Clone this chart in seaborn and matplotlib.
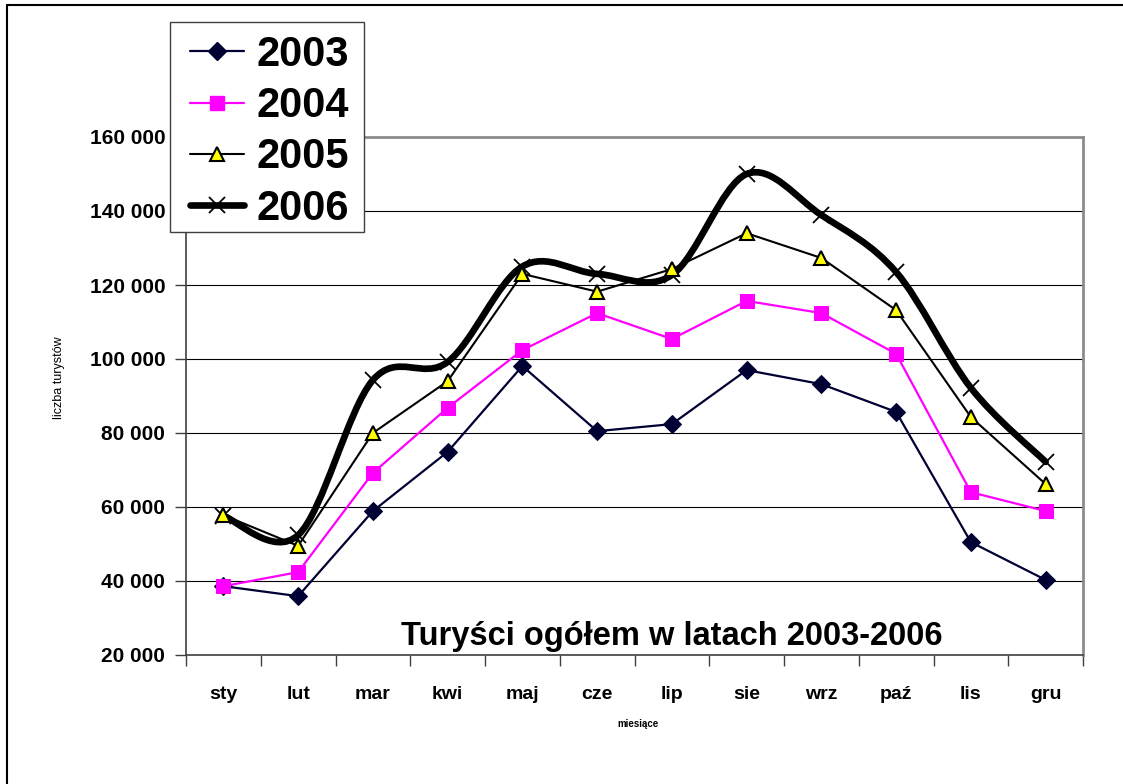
import numpy as np
import pandas as pd
import seaborn as sns
import matplotlib.pyplot as plt
from matplotlib.path import Path
from matplotlib.patches import PathPatch, Rectangle
from matplotlib.lines import Line2D

# data
months = ['sty', 'lut', 'mar', 'kwi', 'maj', 'cze', 'lip', 'sie', 'wrz', 'paź', 'lis', 'gru']
y2003 = [38600, 35900, 58900, 74900, 98100, 80500, 82400, 97000, 93200, 85700, 50500, 40300]
y2004 = [38600, 42400, 69200, 86800, 102400, 112400, 105400, 115700, 112400, 101400, 64000, 58900]
y2005 = [57800, 49500, 80000, 94000, 123000, 118200, 124300, 134000, 127300, 113200, 84300, 66200]
y2006 = [57600, 52400, 94300, 99200, 125000, 123000, 122700, 150000, 138900, 123500, 92200, 72200]
yticks = [20000, 40000, 60000, 80000, 100000, 120000, 140000, 160000]

sns.set_theme(style='white')
plt.rcParams['font.family'] = ['Liberation Sans', 'DejaVu Sans']
plt.rcParams['text.color'] = 'black'
plt.rcParams['xtick.color'] = 'black'
plt.rcParams['ytick.color'] = 'black'
plt.rcParams['axes.labelcolor'] = 'black'

fig = plt.figure(figsize=(11.23, 7.84), dpi=100)
ax = fig.add_axes([186/1123, 1-655/784, 897/1123, 518/784])

x = np.arange(len(months))
df = pd.DataFrame({'x': x, '2003': y2003, '2004': y2004, '2005': y2005, '2006': y2006})

sns.lineplot(data=df, x='x', y='2003', ax=ax, color='#000033', lw=1.6,
             marker='D', markersize=9, markeredgecolor='#000033', zorder=3)
sns.lineplot(data=df, x='x', y='2004', ax=ax, color='#ff00ff', lw=1.6,
             marker='s', markersize=10, markeredgecolor='#ff00ff', zorder=3)
sns.lineplot(data=df, x='x', y='2005', ax=ax, color='black', lw=1.5,
             marker='^', markersize=10, markerfacecolor='#ffff00',
             markeredgecolor='black', markeredgewidth=1.5, zorder=5)

# 2006 drawn as a smoothed curve (bezier through the points, like Excel)
pts = np.column_stack([x, y2006]).astype(float)
verts = [tuple(pts[0])]
codes = [Path.MOVETO]
n = len(pts)
for i in range(n - 1):
    p0 = pts[max(i - 1, 0)]
    p1 = pts[i]
    p2 = pts[i + 1]
    p3 = pts[min(i + 2, n - 1)]
    c1 = p1 + (p2 - p0) / 6.0
    c2 = p2 - (p3 - p1) / 6.0
    verts += [tuple(c1), tuple(c2), tuple(p2)]
    codes += [Path.CURVE4] * 3
ax.add_patch(PathPatch(Path(verts, codes), fill=False, edgecolor='black',
                       lw=4.8, capstyle='round', joinstyle='round', zorder=4))
sns.lineplot(data=df, x='x', y='2006', ax=ax, color='black', lw=0,
             marker='x', markersize=11, markeredgewidth=1.3,
             markeredgecolor='black', zorder=4)

ax.set_xlim(-0.5, 11.5)
ax.set_ylim(20000, 160000)
ax.set_yticks(yticks)
ax.set_yticklabels([f'{v:,}'.replace(',', ' ') for v in yticks],
                   fontsize=15, fontweight='bold')
ax.set_xticks(x)
ax.set_xticklabels(months, fontsize=14, fontweight='bold')
ax.set_xticks(np.arange(-0.5, 12, 1), minor=True)
ax.tick_params(axis='x', which='major', length=0, pad=22)
ax.tick_params(axis='x', which='minor', length=8, width=1, color='#404040', bottom=True)
ax.tick_params(axis='y', which='major', length=8, width=1, color='#404040', left=True, pad=7)
ax.grid(axis='y', color='black', lw=0.8)
ax.set_axisbelow(True)
for side in ['top', 'right']:
    ax.spines[side].set_color('#8c8c8c')
    ax.spines[side].set_linewidth(2)
ax.spines['left'].set_color('#404040')
ax.spines['bottom'].set_color('#404040')
ax.spines['left'].set_linewidth(1.2)
ax.spines['bottom'].set_linewidth(1.2)

ax.set_xlabel('')
ax.set_ylabel('')
fig.text(59/1123, 1-378/784, 'liczba turystów', rotation=90, fontsize=9,
         ha='center', va='center')
fig.text(638/1123, 1-724/784, 'miesiące', fontsize=7, fontweight='bold',
         ha='center', va='center')
ax.text(0.542, 0.036, 'Turyści ogółem w latach 2003-2006', transform=ax.transAxes,
        fontsize=23.5, fontweight='bold', ha='center', va='center', zorder=6)

# legend box drawn separately so its padding can match the original
box = Rectangle((170/1123, 1-232/784), 194/1123, 210/784, transform=fig.transFigure,
                facecolor='white', edgecolor='#404040', lw=1, zorder=8)
fig.add_artist(box)

handles = [
    Line2D([], [], color='#000033', lw=1.6, marker='D', markersize=9),
    Line2D([], [], color='#ff00ff', lw=1.6, marker='s', markersize=10),
    Line2D([], [], color='black', lw=1.5, marker='^', markersize=10,
           markerfacecolor='#ffff00', markeredgewidth=1.5),
    Line2D([], [], color='black', lw=4.8, marker='x', markersize=11,
           markeredgewidth=1.3, solid_capstyle='round'),
]
leg = fig.legend(handles, ['2003', '2004', '2005', '2006'], loc='upper left',
                 bbox_to_anchor=(190/1123, 1-35/784), borderaxespad=0,
                 prop={'size': 30, 'weight': 'bold'}, handlelength=1.3,
                 handletextpad=0.3, labelspacing=0.27, borderpad=0,
                 frameon=False)
leg.set_zorder(10)

# outer chart border: only its left and top edges fall inside the image
fig.add_artist(Line2D([7/1123, 7/1123], [-0.01, 1-5/784], transform=fig.transFigure,
                      color='black', lw=1.5))
fig.add_artist(Line2D([7/1123, 1.01], [1-5/784, 1-5/784], transform=fig.transFigure,
                      color='black', lw=1.5))

fig.savefig('out.png', dpi=100)
